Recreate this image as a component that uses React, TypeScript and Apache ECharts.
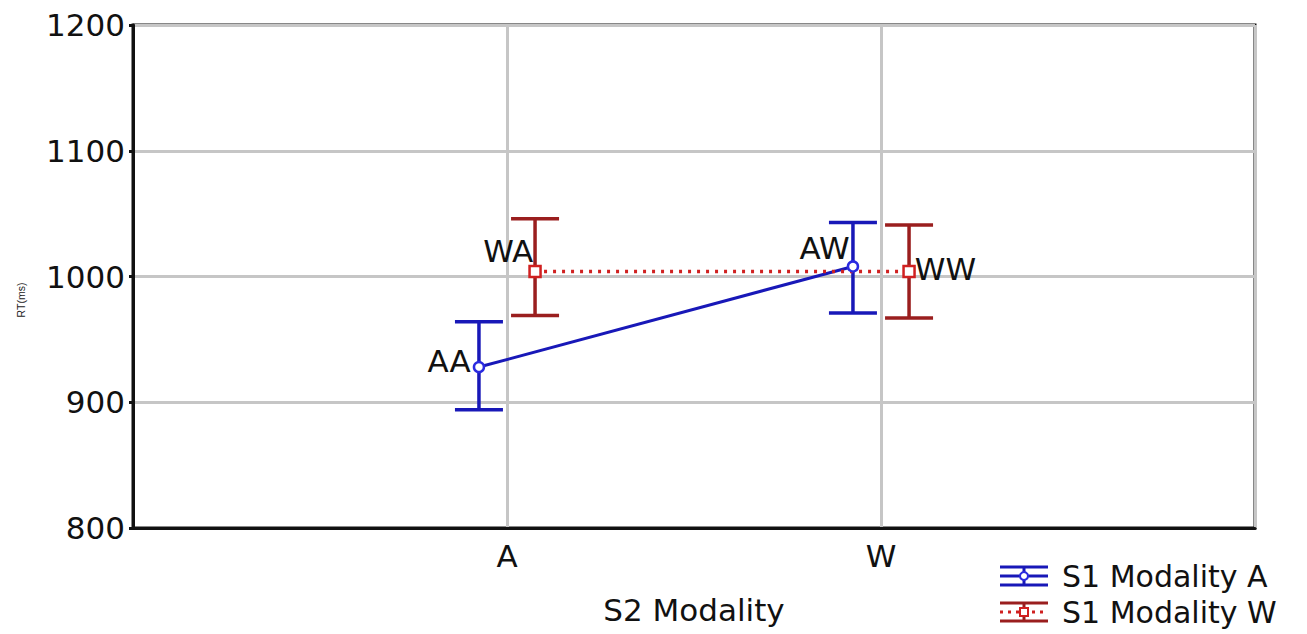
import React, { useEffect, useRef } from "react";
import * as echarts from "echarts";

const categories = ["A", "W"];
const seriesNames = ["S1 Modality A", "S1 Modality W"];
const meanA = [928, 1008];
const lowA = [894, 971];
const highA = [964, 1043];
const meanW = [1004, 1004];
const lowW = [969, 967];
const highW = [1046, 1041];
const labelsA = ["AA", "AW"];
const labelsW = ["WA", "WW"];
const yTicks = [800, 900, 1000, 1100, 1200];
const yName = "RT(ms)";
const xName = "S2 Modality";

const BLUE = "#1818b8";
const BLUE_MARK = "#2a2ae0";
const RED = "#9a1e1e";
const RED_MARK = "#d02020";
const FONT = "DejaVu Sans, Liberation Sans, sans-serif";

const dodge = 0.075;

export default function App() {
  const ref = useRef<HTMLDivElement>(null);
  useEffect(() => {
    if (!ref.current) return;
    const chart = echarts.init(ref.current, undefined, { renderer: "svg" });

    const xPos = (i: number, off: number) => i + 1 + off;

    const errData = (low: number[], high: number[], off: number) =>
      categories.map((_, i) => [xPos(i, off), low[i], high[i]]);

    const renderErr = (color: string) => (params: any, api: any) => {
      const x = api.value(0);
      const lo = api.coord([x, api.value(1)]);
      const hi = api.coord([x, api.value(2)]);
      const hw = 24;
      const style = { stroke: color, lineWidth: 3.5 };
      return {
        type: "group",
        children: [
          { type: "line", shape: { x1: lo[0], y1: lo[1], x2: hi[0], y2: hi[1] }, style },
          { type: "line", shape: { x1: hi[0] - hw, y1: hi[1], x2: hi[0] + hw, y2: hi[1] }, style },
          { type: "line", shape: { x1: lo[0] - hw, y1: lo[1], x2: lo[0] + hw, y2: lo[1] }, style },
        ],
      };
    };

    const labelStyle = { show: true, color: "#111", fontSize: 31, fontFamily: FONT };

    const lineDataA = categories.map((_, i) => ({
      value: [xPos(i, -dodge), meanA[i]],
      label: {
        ...labelStyle,
        formatter: labelsA[i],
        position: "left",
        offset: i === 0 ? [3, -6] : [8, -18],
      },
    }));
    const lineDataW = categories.map((_, i) => ({
      value: [xPos(i, dodge), meanW[i]],
      label: {
        ...labelStyle,
        formatter: labelsW[i],
        position: i === 0 ? "left" : "right",
        offset: i === 0 ? [10, -20] : [-6, -2],
      },
    }));

    const legendX = 1000;
    const legendY = [576, 612];
    const legendIcon = (y: number, color: string, mark: string, dashed: boolean, square: boolean) => [
      { type: "line", shape: { x1: legendX, y1: y - 9, x2: legendX + 48, y2: y - 9 }, style: { stroke: color, lineWidth: 3 } },
      { type: "line", shape: { x1: legendX, y1: y + 9, x2: legendX + 48, y2: y + 9 }, style: { stroke: color, lineWidth: 3 } },
      { type: "line", shape: { x1: legendX + 24, y1: y - 9, x2: legendX + 24, y2: y + 9 }, style: { stroke: color, lineWidth: 3 } },
      {
        type: "line",
        shape: { x1: legendX, y1: y, x2: legendX + 48, y2: y },
        style: { stroke: dashed ? RED_MARK : color, lineWidth: 3, lineDash: dashed ? [3, 5] : undefined },
      },
      square
        ? { type: "rect", shape: { x: legendX + 20, y: y - 4, width: 8, height: 8 }, style: { fill: "#fff", stroke: mark, lineWidth: 2 } }
        : { type: "circle", shape: { cx: legendX + 24, cy: y, r: 4 }, style: { fill: "#fff", stroke: mark, lineWidth: 2 } },
    ];

    chart.setOption({
      animation: false,
      backgroundColor: "#ffffff",
      grid: {
        left: 133,
        right: 52,
        top: 25,
        bottom: 106,
        show: true,
        borderColor: "#111",
        borderWidth: 3,
        backgroundColor: "transparent",
      },
      xAxis: {
        type: "value",
        min: 0,
        max: 3,
        interval: 1,
        name: xName,
        nameLocation: "middle",
        nameGap: 66,
        nameTextStyle: { fontSize: 31, color: "#111", fontFamily: FONT },
        axisLine: { show: true, lineStyle: { color: "#111", width: 3 } },
        axisTick: { show: false },
        axisLabel: {
          fontSize: 31,
          color: "#111",
          fontFamily: FONT,
          margin: 12,
          formatter: (v: number) => (v >= 1 && v <= categories.length ? categories[v - 1] : ""),
        },
        splitLine: { show: true, lineStyle: { color: "#c6c6c6", width: 3 } },
      },
      yAxis: {
        type: "value",
        min: yTicks[0],
        max: yTicks[yTicks.length - 1],
        interval: 100,
        axisLine: { show: true, lineStyle: { color: "#111", width: 3 } },
        axisTick: { show: true, length: 4, lineStyle: { color: "#111", width: 3 } },
        axisLabel: {
          fontSize: 31,
          color: "#111",
          fontFamily: FONT,
          margin: 8,
          formatter: (v: number) => String(v),
        },
        splitLine: { show: true, lineStyle: { color: "#c6c6c6", width: 3 } },
      },
      series: [
        {
          type: "custom",
          name: seriesNames[0] + " error",
          renderItem: renderErr(BLUE),
          data: errData(lowA, highA, -dodge),
          z: 3,
        },
        {
          type: "custom",
          name: seriesNames[1] + " error",
          renderItem: renderErr(RED),
          data: errData(lowW, highW, dodge),
          z: 3,
        },
        {
          type: "line",
          name: seriesNames[0],
          data: lineDataA,
          symbol: "circle",
          symbolSize: 10,
          itemStyle: { color: "#fff", borderColor: BLUE_MARK, borderWidth: 2.5 },
          lineStyle: { color: BLUE, width: 3 },
          z: 4,
        },
        {
          type: "line",
          name: seriesNames[1],
          data: lineDataW,
          symbol: "rect",
          symbolSize: 11,
          itemStyle: { color: "#fff", borderColor: RED_MARK, borderWidth: 2.5 },
          lineStyle: { color: RED_MARK, width: 3.5, type: [3, 6] },
          z: 4,
        },
      ],
      graphic: [
        ...legendIcon(legendY[0], BLUE, BLUE_MARK, false, false),
        ...legendIcon(legendY[1], RED, RED_MARK, true, true),
        {
          type: "text",
          x: 1062,
          y: legendY[0],
          style: { text: seriesNames[0], fontSize: 30, fill: "#111", fontFamily: FONT, verticalAlign: "middle" },
        },
        {
          type: "text",
          x: 1062,
          y: legendY[1],
          style: { text: seriesNames[1], fontSize: 30, fill: "#111", fontFamily: FONT, verticalAlign: "middle" },
        },
        {
          type: "text",
          x: 21,
          y: 300,
          rotation: Math.PI / 2,
          style: { text: yName, fontSize: 10.5, fill: "#222", fontFamily: "Liberation Sans, sans-serif", align: "center", verticalAlign: "middle" },
        },
      ],
    });
    return () => chart.dispose();
  }, []);
  return <div ref={ref} style={{ width: 1307, height: 634, position: "absolute", left: 0, top: 0 }} />;
}
